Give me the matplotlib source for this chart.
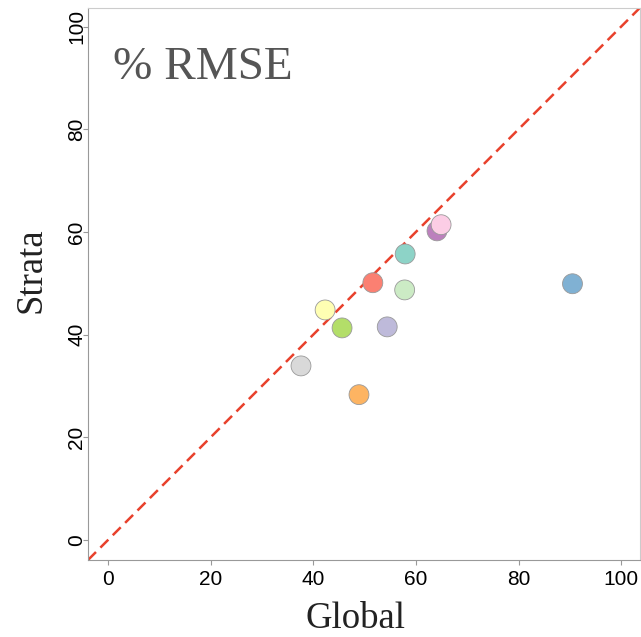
import matplotlib
matplotlib.use("Agg")
import matplotlib.pyplot as plt

# dane
global_rmse = [37.6, 48.9, 42.3, 45.6, 51.6, 54.4, 57.8, 57.9, 64.1, 64.9, 90.5]
strata_rmse = [33.9, 28.3, 44.8, 41.3, 50.1, 41.5, 48.7, 55.7, 60.2, 61.4, 49.9]
colors = ["#D9D9D9", "#FDB462", "#FFFFB3", "#B3DE69", "#FB8072", "#BEBADA",
          "#CCEBC5", "#8DD3C7", "#BC80BD", "#FCCDE5", "#80B1D3"]
ticks = [0, 20, 40, 60, 80, 100]
lim = (-3.9, 103.6)

fig = plt.figure(figsize=(6.41, 6.37), dpi=100)
ax = fig.add_axes([0.1373, 0.1209, 0.8607, 0.8665])

ax.plot(lim, lim, color="#E8412C", linestyle=(0, (4.5, 2.5)), linewidth=1.8, zorder=1)
ax.scatter(global_rmse, strata_rmse, s=205, c=colors, edgecolors="#999999",
           linewidths=0.6, zorder=2)

ax.set_xlim(lim)
ax.set_ylim(lim)
ax.set_xticks(ticks)
ax.set_yticks(ticks)
ax.tick_params(axis="both", labelsize=15, length=3.6, color="#999999", width=0.8)
ax.tick_params(axis="y", pad=-2.5)
for lab in ax.get_xticklabels() + ax.get_yticklabels():
    lab.set_family("Liberation Sans")
plt.setp(ax.get_yticklabels(), rotation=90, va="center")

for s in ["left", "bottom"]:
    ax.spines[s].set_color("#999999")
for s in ["top", "right"]:
    ax.spines[s].set_color("#cccccc")

ax.set_xlabel("Global", family="Liberation Serif", fontsize=26.5, color="#222222",
              labelpad=9, x=0.485)
ax.set_ylabel("Strata", family="Liberation Serif", fontsize=26.5, color="#222222",
              labelpad=14, y=0.525)
ax.text(1, 89.7, "% RMSE", family="Liberation Serif", fontsize=34, color="#555555")

fig.savefig("out.png", dpi=100)
